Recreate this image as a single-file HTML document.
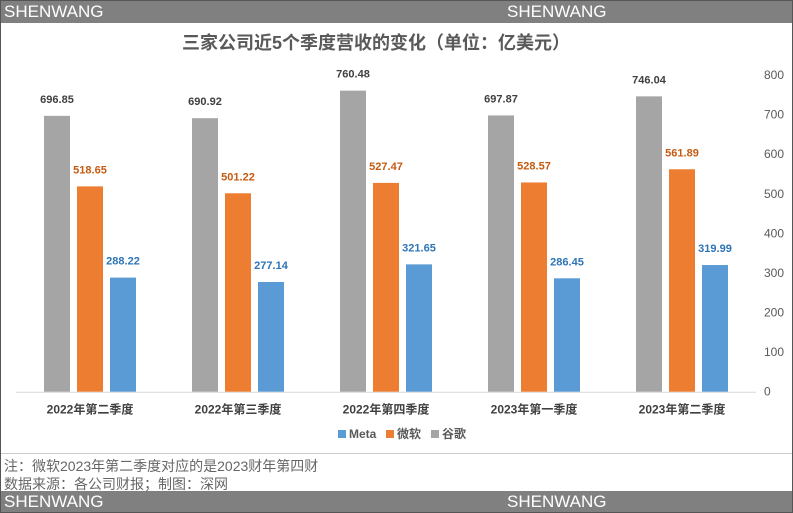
<!DOCTYPE html>
<html><head><meta charset="utf-8"><style>
body{margin:0;width:793px;height:513px;overflow:hidden;background:#fff;font-family:"Liberation Sans","Noto Sans CJK SC",sans-serif}
#wrap{position:absolute;left:0;top:0;width:791px;height:511px;border:1px solid #555;overflow:hidden}
.bar{position:absolute;left:0;width:791px;height:22px;background:#808080;color:#fff;font-size:17px;line-height:22px}
.bar span{position:absolute}
.note{position:absolute;left:3px;font-size:14px;color:#666}
</style></head><body>
<div id="wrap">
<div class="bar" style="top:0"><span style="left:3px">SHENWANG</span><span style="left:506px">SHENWANG</span></div>
<svg id="chart" width="791" height="450" style="position:absolute;left:0;top:22px"></svg>
<div style="position:absolute;left:0;top:452px;width:791px;height:1px;background:#ccc"></div>
<div class="note" style="top:455px">注：微软2023年第二季度对应的是2023财年第四财</div>
<div class="note" style="top:473px">数据来源：各公司财报；制图：深网</div>
<div class="bar" style="top:490px"><span style="left:3px">SHENWANG</span><span style="left:506px">SHENWANG</span></div>
</div>
<script>
const categories=["2022年第二季度","2022年第三季度","2022年第四季度","2023年第一季度","2023年第二季度"];
const google=[696.85,690.92,760.48,697.87,746.04];
const microsoft=[518.65,501.22,527.47,528.57,561.89];
const meta=[288.22,277.14,321.65,286.45,319.99];
const yTicks=[0,100,200,300,400,500,600,700,800];
const svg=document.getElementById('chart');const NS='http://www.w3.org/2000/svg';
const OY=22,base=390.7-OY,top0=74-OY;
const y=v=>base-(base-top0)*v/800;
const cx=i=>89+i*148;
function mk(t,a,txt){const e=document.createElementNS(NS,t);for(const k in a)e.setAttribute(k,a[k]);if(txt!=null)e.textContent=txt;svg.appendChild(e);return e;}
let t=mk('text',{x:375,y:26,'text-anchor':'middle','font-size':18,'font-weight':'bold',fill:'#595959'},'三家公司近5个季度营收的变化（单位：亿美元）');

yTicks.forEach(v=>{const e=mk('text',{x:763,y:y(v)+4,'font-size':12,fill:'#595959'},v);
});
const ax=mk('line',{x1:15,x2:755,y1:base+0.5,y2:base+0.5,stroke:'#d9d9d9'});

const series=[[google,'#a5a5a5','#404040','google'],[microsoft,'#ed7d31','#c55a11','microsoft'],[meta,'#5b9bd5','#2e75b6','meta']];
categories.forEach((c,i)=>{
 series.forEach((s,j)=>{const x=cx(i)-46+j*33,v=s[0][i];
  const r=mk('rect',{x:x,y:y(v),width:26,height:base-y(v),fill:s[1]});
  
  const l=mk('text',{x:x+13,y:y(v)-13,'text-anchor':'middle','font-size':11,'font-weight':'bold',fill:s[2]},v.toFixed(2));
  });
 const e=mk('text',{x:cx(i),y:base+22,'text-anchor':'middle','font-size':12,'font-weight':'bold',fill:'#404040'},c);
 
});
const leg=[['Meta','#5b9bd5',337],['微软','#ed7d31',385],['谷歌','#a5a5a5',430]];
leg.forEach(l=>{const r=mk('rect',{x:l[2],y:407,width:8,height:8,fill:l[1]});

const e=mk('text',{x:l[2]+11,y:415,'font-size':12,'font-weight':'bold',fill:'#595959'},l[0]);
});
</script>
</body></html>
